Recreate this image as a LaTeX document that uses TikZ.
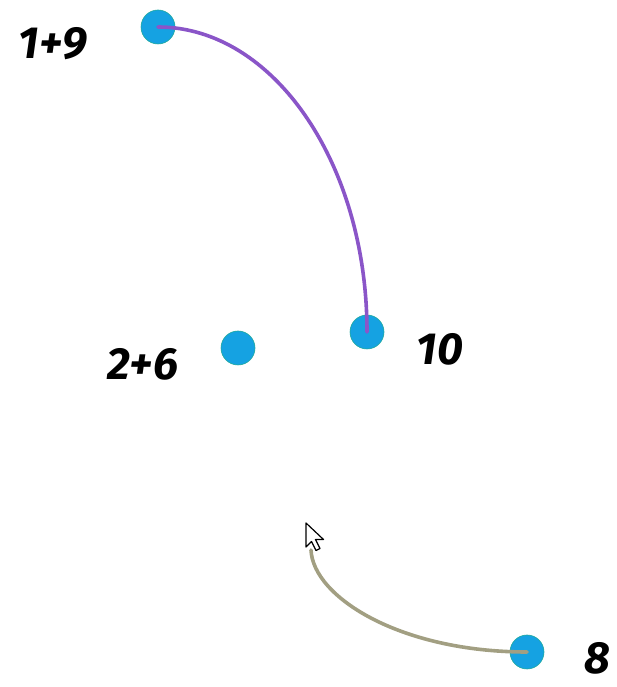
\documentclass[tikz,border=0pt]{standalone}
\usepackage{fontspec}
\setmainfont{Fira Sans}
\usepackage{xcolor}
\usetikzlibrary{positioning, calc}
\definecolor{dotblue}{HTML}{15A2E2}
\definecolor{dotedge}{HTML}{1FA99C}
\definecolor{linkpurple}{HTML}{8A55C8}
\definecolor{linkbeige}{HTML}{A29F82}

\begin{document}
\begin{tikzpicture}[
    x=1pt, y=1pt,
    dot/.style={circle, draw=dotedge, fill=dotblue, semithick, minimum size=34pt, inner sep=0pt},
    tag/.style={font=\fontsize{45}{45}\selectfont\bfseries\itshape, text=black, inner sep=0pt},
    link/.style={draw=#1, line width=3.6pt, line cap=round},
    pointer/.style={draw=black, fill=white, line width=1.2pt, line join=round}
]
    \useasboundingbox (0,0) rectangle (617,687);

    % Dots
    \node[dot] (d19) at (158,660) {};
    \node[dot] (d26) at (238,339) {};
    \node[dot] (d10) at (367,355) {};
    \node[dot] (d8) at (527,35) {};

    % Labels
    \node[tag] (l19) at (53,643) {1+9};
    \node[tag] (l26) at (143,323) {2+6};
    \node[tag] (l10) at (440,338) {10};
    \node[tag] (l8) at (597,29) {8};

    % Links
    \draw[link=linkpurple] (d19.center) .. controls (273,660) and (367,524) .. (d10.center);
    \coordinate (tail) at (311,137);
    \draw[link=linkbeige] (tail) .. controls (313,90) and (400,35) .. (d8.center);

    % Mouse pointer
    \coordinate (tip) at (306,164);
    \draw[pointer] (tip) -- ++(0,-24) -- ++(5.5,5.5) -- ++(4.5,-9) -- ++(4,2) -- ++(-4.5,9) -- ++(8,0) -- cycle;

\end{tikzpicture}
\end{document}
